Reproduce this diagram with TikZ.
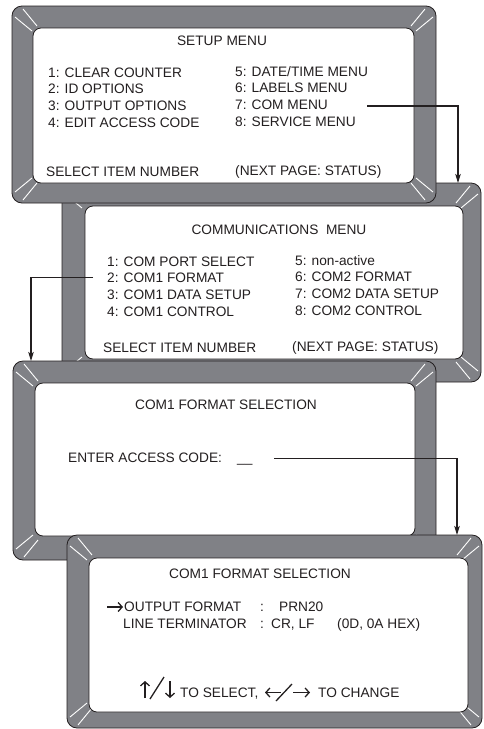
\documentclass[tikz,border=0pt]{standalone}
\usepackage{fontspec}
\setmainfont{Liberation Sans}
\usetikzlibrary{arrows.meta}
\definecolor{bezelgray}{RGB}{128,129,134}
\definecolor{ink}{RGB}{35,31,32}
\tikzset{
  bez/.style={fill=bezelgray, draw=ink, line width=0.8pt, rounded corners=10pt},
  scr/.style={fill=white, draw=ink, line width=0.8pt, rounded corners=8pt},
  cl/.style={draw=white, line width=0.9pt},
  txt/.style={font=\fontsize{13.7}{16}\selectfont, text=ink, inner sep=0pt, anchor=base west},
  ttl/.style={txt, anchor=base},
  conn/.style={draw=ink, line width=1.2pt, -{Stealth[length=9pt,width=5.5pt,inset=2pt]}},
  sym/.style={draw=ink, line width=1.3pt},
  symarr/.style={sym, -{Straight Barb[length=4pt,width=9pt]}}
}
\newcommand\bezel[8]{%
  \draw[bez] (#1,#2) rectangle (#3,#4);
  \draw[cl] (#1+11,#2+3) -- (#1+25,#2+20) (#1+3,#2+11) -- (#1+20,#2+25);
  \draw[cl] (#3-11,#2+3) -- (#3-25,#2+20) (#3-3,#2+11) -- (#3-20,#2+25);
  \draw[cl] (#1+11,#4-3) -- (#1+25,#4-20) (#1+3,#4-11) -- (#1+20,#4-25);
  \draw[cl] (#3-11,#4-3) -- (#3-25,#4-20) (#3-3,#4-11) -- (#3-20,#4-25);
  \draw[scr] (#5,#6) rectangle (#7,#8);
}
\begin{document}
\begin{tikzpicture}[x=1pt,y=-1pt]
\useasboundingbox (0,0) rectangle (483,729);
% ---------- screen 2 (behind screen 1 and 3)
\bezel{62}{183}{481}{382}{85}{206}{463}{359}
% ---------- screen 1
\bezel{12}{6}{436}{203}{33}{28}{414}{183}
\node[ttl] (t1) at (222,45) {SETUP MENU};
\node[txt] (a1) at (48,77) {1: CLEAR COUNTER};
\node[txt] (a2) at (48,93) {2: ID OPTIONS};
\node[txt] (a3) at (48,110) {3: OUTPUT OPTIONS};
\node[txt] (a4) at (48,127) {4: EDIT ACCESS CODE};
\node[txt] (a5) at (235,76) {5: DATE/TIME MENU};
\node[txt] (a6) at (235,92.7) {6: LABELS MENU};
\node[txt] (a7) at (235,109.3) {7: COM MENU};
\node[txt] (a8) at (235,126) {8: SERVICE MENU};
\node[txt] (a9) at (46,176.5) {SELECT ITEM NUMBER};
\node[txt] (a10) at (235,175) {(NEXT PAGE: STATUS)};
\coordinate (c1s) at (367,106);
\coordinate (c1e) at (458,183);
\draw[conn] (c1s) -| (c1e);
% screen 2 texts
\node[ttl] (t2) at (279,234) {COMMUNICATIONS\ \ MENU};
\node[txt] (b1) at (107,266) {1: COM PORT SELECT};
\node[txt] (b2) at (107,282.7) {2: COM1 FORMAT};
\node[txt] (b3) at (107,299.3) {3: COM1 DATA SETUP};
\node[txt] (b4) at (107,316) {4: COM1 CONTROL};
\node[txt] (b5) at (295,265) {5: non-active};
\node[txt] (b6) at (295,281.7) {6: COM2 FORMAT};
\node[txt] (b7) at (295,298.3) {7: COM2 DATA SETUP};
\node[txt] (b8) at (295,315) {8: COM2 CONTROL};
\node[txt] (b9) at (103,352.7) {SELECT ITEM NUMBER};
\node[txt] (b10) at (292,351.7) {(NEXT PAGE: STATUS)};
% ---------- screen 3
\bezel{13}{361}{436}{560}{35}{383}{415}{536}
\node[ttl] (t3) at (226,409.3) {COM1 FORMAT SELECTION};
\node[txt] (e1) at (68,462.7) {ENTER ACCESS CODE:};
\node[txt] (e2) at (237,462.7) {\_\_};
\coordinate (c2s) at (93,277.5);
\coordinate (c2e) at (31,361);
\draw[conn] (c2s) -| (c2e);
% ---------- screen 4
\bezel{67}{535}{482}{728}{89}{558}{468}{712}
\node[ttl] (t4) at (260,578.3) {COM1 FORMAT SELECTION};
\draw[symarr] (107,607) -- (123,607);
\node[txt] (f1) at (124,611.7) {OUTPUT FORMAT};
\node[txt] (f2) at (260,611.7) {:};
\node[txt] (f3) at (279,611.7) {PRN20};
\node[txt] (g1) at (123,628.3) {LINE TERMINATOR};
\node[txt] (g2) at (260,628.3) {:};
\node[txt] (g3) at (271,628.3) {CR, LF};
\node[txt] (g4) at (337,628.3) {(0D, 0A HEX)};
\draw[symarr] (145,698) -- (145,681);
\draw[sym] (150,699) -- (164,677);
\draw[symarr] (170,681) -- (170,698);
\node[txt] (h1) at (180,697.3) {TO SELECT,};
\draw[symarr] (281,692.5) -- (265,692.5);
\draw[sym] (276,701) -- (292,684);
\draw[symarr] (293,692.5) -- (310,692.5);
\node[txt] (h2) at (318,697.3) {TO CHANGE};
\coordinate (c3s) at (274,458.3);
\coordinate (c3e) at (457,535);
\draw[conn] (c3s) -| (c3e);
\end{tikzpicture}
\end{document}
